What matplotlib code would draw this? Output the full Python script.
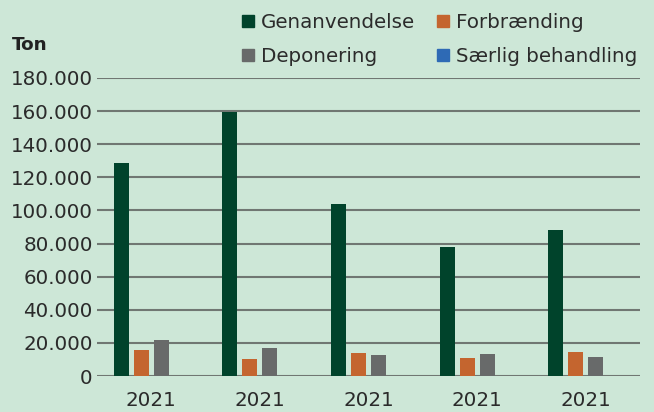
import matplotlib.pyplot as plt
import numpy as np

plt.rcParams['font.family'] = ['DejaVu Sans']

groups = ["2021", "2021", "2021", "2021", "2021"]
genanvendelse = [128600, 159400, 103900, 77900, 88200]
forbraending = [16000, 10300, 14000, 10900, 14500]
deponering = [21700, 17000, 12400, 13000, 11500]
saerlig = [300, 300, 300, 300, 300]

series = ["Genanvendelse", "Forbrænding", "Deponering", "Særlig behandling"]
colors = ["#00432b", "#c4652f", "#686a6a", "#2e6ab5"]
bg = "#cde7d7"
txt = "#2b2b2b"

fig = plt.figure(figsize=(6.54, 4.12), dpi=100, facecolor=bg)
ax = fig.add_axes([97/654, 1 - 376/412, 543/654, 298/412], facecolor=bg)

x = np.arange(len(groups))
slot = 0.184
width = 0.138
for i, (vals, c) in enumerate(zip([genanvendelse, forbraending, deponering, saerlig], colors)):
    ax.bar(x + (i - 1.5) * slot, vals, width=width, color=c, zorder=3)

ax.set_xlim(-0.5, len(groups) - 0.5)
ax.set_ylim(0, 180000)
yt = np.arange(0, 180001, 20000)
ax.set_yticks(yt)
ax.set_yticklabels(["0" if v == 0 else f"{v // 1000}.000" for v in yt], fontsize=14.3, color=txt)
ax.set_xticks(x)
ax.set_xticklabels(groups, fontsize=14.3, color=txt)
ax.tick_params(axis="y", length=0, pad=3)
ax.tick_params(axis="x", length=0, pad=11)
ax.grid(axis="y", color="#707772", linewidth=1.5, zorder=1)
for s in ax.spines.values():
    s.set_visible(False)

fig.text(12/654, 1 - 45/412, "Ton", fontsize=13.2, fontweight="bold", color="#222222", va="center")

# legend fills column-wise, so reorder to get rows Gen/Forb and Dep/Saerlig
handles = [plt.Rectangle((0, 0), 1, 1, color=c) for c in colors]
order = [0, 2, 1, 3]
fig.legend([handles[i] for i in order], [series[i] for i in order], ncol=2,
           loc="upper left", bbox_to_anchor=(242/654, 1 - 13/412),
           frameon=False, fontsize=14.3, handlelength=0.6, handleheight=0.6,
           handletextpad=0.35, columnspacing=1.1, labelspacing=0.75,
           borderpad=0, borderaxespad=0, labelcolor=txt)

fig.savefig("out.png", dpi=100, facecolor=bg)
